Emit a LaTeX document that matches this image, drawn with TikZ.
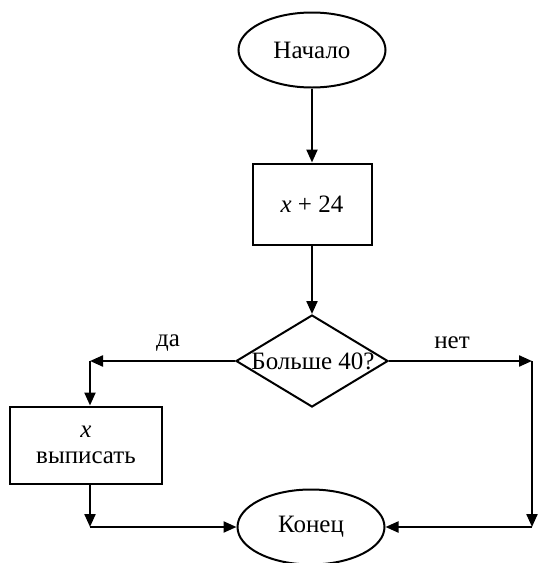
\documentclass[tikz,border=0pt]{standalone}
\usepackage{fontspec}
\setmainfont{Liberation Serif}
\usetikzlibrary{shapes.geometric,arrows.meta}
\begin{document}
\begin{tikzpicture}[x=1pt,y=-1pt,
  every node/.style={font=\fontsize{25}{28}\selectfont, line width=2pt},
  term/.style={draw, ellipse, minimum width=147pt, minimum height=75pt, inner sep=0pt},
  proc/.style={draw, rectangle, inner sep=0pt},
  dec/.style={draw, diamond, minimum width=152pt, minimum height=92pt, inner sep=0pt, aspect=1.65},
  arr/.style={line width=2.2pt, -{Triangle[length=13pt,width=11pt]}}]
\useasboundingbox (0,0) rectangle (539,563);
\node[term] (start) at (312,50) {Начало};
\node[proc, minimum width=119pt, minimum height=81pt] (calc) at (312,204) {\textit{x} + 24};
\node[dec] (cond) at (312,361) {};
\node at (313,361) {Больше 40?};
\node[proc, minimum width=152pt, minimum height=77pt, align=center] (out) at (86,445) {\textit{x}\\[-2pt]выписать};
\node[term] (end) at (311,527) {Конец};
\coordinate (cl) at (90,361);
\coordinate (cr) at (532,361);
\coordinate (bl) at (90,527);
\coordinate (br) at (532,527);
\draw[arr] (start.south) -- (calc.north);
\draw[arr] (calc.south) -- (cond.north);
\draw[arr] (cond.west) -- (cl);
\draw[arr] (cl) -- (out.north -| cl);
\draw[arr] (out.south -| cl) -- (bl);
\draw[arr] (bl) -- (end.west);
\draw[arr] (cond.east) -- (cr);
\draw[arr] (cr) -- (br);
\draw[arr] (br) -- (end.east);
\node at (168,343) {да};
\node at (452,343) {нет};
\end{tikzpicture}
\end{document}
